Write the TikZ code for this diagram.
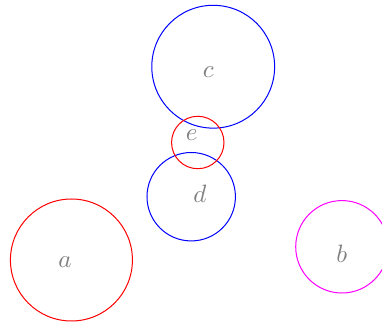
\documentclass[tikz,border=0pt]{standalone}
\usepackage{tikz}
\usetikzlibrary{positioning}
\usepackage{xcolor}
\definecolor{mymagenta}{RGB}{255,0,255}

\tikzset{
  ring/.style={draw, circle, inner sep=0pt},
  lbl/.style={inner sep=0pt, text=gray}
}

\begin{document}
\begin{tikzpicture}
  \useasboundingbox (0,0) rectangle (5.348,-4.578);

  % circles
  \node[ring, red, minimum size=1.708cm] (ca) at (1.00,-3.64) {};
  \node[ring, mymagenta, minimum size=1.294cm] (cb) at (4.787,-3.455) {};
  \node[ring, blue, minimum size=1.72cm] (cc) at (2.985,-0.934) {};
  \node[ring, blue, minimum size=1.238cm] (cd) at (2.677,-2.754) {};
  \node[ring, red, minimum size=0.734cm] (ce) at (2.769,-1.995) {};

  % labels
  \node[lbl] (la) at (0.91,-3.664) {$a$};
  \node[lbl] (lb) at (4.784,-3.553) {$b$};
  \node[lbl] (lc) at (2.916,-1.015) {$c$};
  \node[lbl] (ld) at (2.80,-2.706) {$d$};
  \node[lbl] (le) at (2.684,-1.89) {$e$};
\end{tikzpicture}
\end{document}
